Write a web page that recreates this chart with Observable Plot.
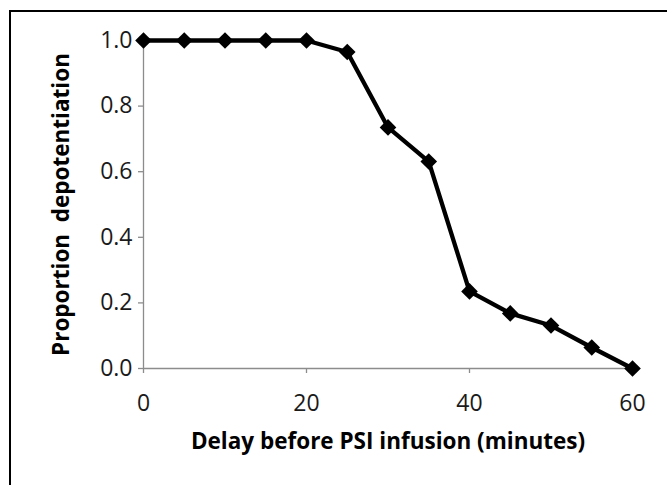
<!DOCTYPE html>
<html>
<head>
<meta charset="utf-8">
<script src="https://cdn.jsdelivr.net/npm/d3@7"></script>
<script src="https://cdn.jsdelivr.net/npm/@observablehq/plot@0.6"></script>
<style>
  html, body { margin: 0; padding: 0; background: #fff; }
  #wrap { position: relative; width: 667px; height: 485px; overflow: hidden; }
  #frame { position: absolute; left: 9px; top: 10px; width: 700px; height: 500px;
           border-left: 2px solid #000; border-top: 2px solid #000; pointer-events: none; }
  svg { display: block; }
</style>
</head>
<body>
<div id="wrap"><div id="frame"></div></div>
<script>
// Data
const delayMinutes = [0, 5, 10, 15, 20, 25, 30, 35, 40, 45, 50, 55, 60];
const proportion   = [1, 1, 1, 1, 1, 0.965, 0.735, 0.631, 0.235, 0.168, 0.131, 0.064, 0];
const xTicks = [0, 20, 40, 60];
const yTicks = [0, 0.2, 0.4, 0.6, 0.8, 1.0];
const xLabel = "Delay before PSI infusion (minutes)";
const yLabel = "Proportion  depotentiation";

const data = delayMinutes.map((d, i) => ({delay: d, prop: proportion[i]}));

const font = "'Open Sans', sans-serif";

const chart = Plot.plot({
  width: 667,
  height: 485,
  marginLeft: 143,
  marginRight: 35,
  marginTop: 40,
  marginBottom: 117,
  x: {domain: [0, 60]},
  y: {domain: [0, 1]},
  style: {fontFamily: font, background: "transparent", color: "#1a1a1a"},
  marks: [
    Plot.ruleY([0], {stroke: "#8c8c8c", strokeWidth: 1.3}),
    Plot.ruleX([0], {y1: 0, y2: 1, stroke: "#8c8c8c", strokeWidth: 1.3}),
    Plot.axisX({ticks: xTicks, tickSize: 5, tickPadding: 21, stroke: "#8c8c8c", strokeWidth: 1.3,
                fill: "#1a1a1a", fontSize: 23, label: null, tickFormat: d => String(d)}),
    Plot.axisY({ticks: yTicks, tickSize: 5, tickPadding: 6, stroke: "#8c8c8c", strokeWidth: 1.3,
                fill: "#1a1a1a", fontSize: 23, label: null, tickFormat: d3.format(".1f")}),
    Plot.line(data, {x: "delay", y: "prop", stroke: "#000", strokeWidth: 4.3, strokeLinejoin: "miter"}),
    Plot.dot(data, {x: "delay", y: "prop", symbol: "diamond2", r: 7.5, fill: "#000", stroke: "none"}),
    Plot.text([xLabel], {frameAnchor: "bottom", lineAnchor: "middle", textAnchor: "middle", dy: 73,
                          fontWeight: "bold", fontSize: 22.5, fill: "#000"}),
    Plot.text([yLabel], {frameAnchor: "left", rotate: -90, dx: -82, lineAnchor: "middle", textAnchor: "middle",
                          fontWeight: "bold", fontSize: 22.5, fill: "#000"})
  ]
});

document.getElementById("wrap").prepend(chart);
</script>
</body>
</html>
